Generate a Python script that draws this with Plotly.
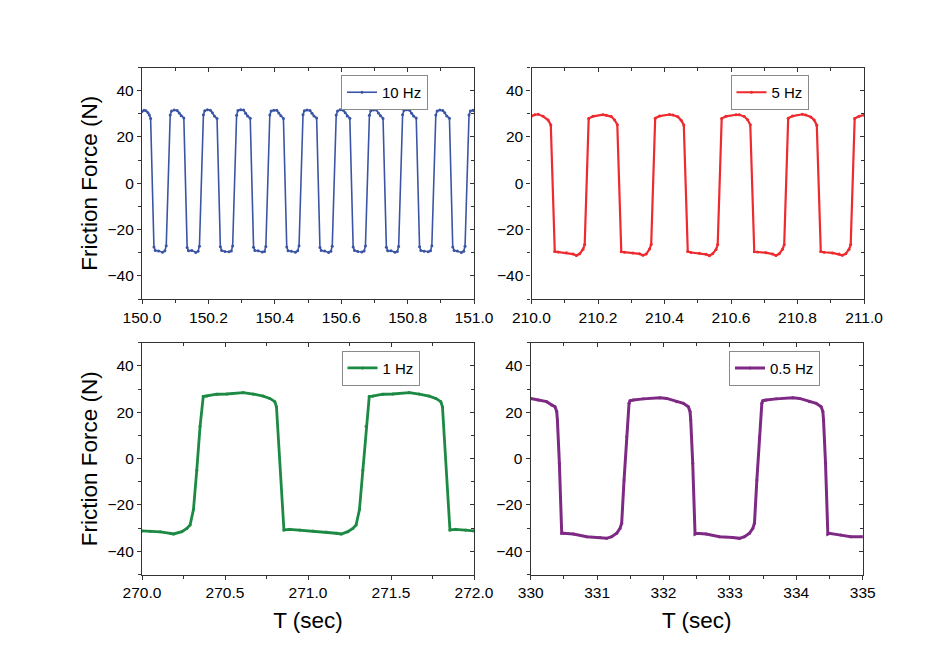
import plotly.graph_objects as go

# ---------------- data ----------------
t_10hz = [150.000, 150.006, 150.012, 150.018, 150.022,
          150.026, 150.036, 150.040, 150.050, 150.062, 150.069, 150.073, 150.085, 150.089, 150.097, 150.106, 150.112, 150.118,
          150.126, 150.136, 150.140, 150.150, 150.162, 150.169, 150.173, 150.185, 150.189, 150.197, 150.206, 150.212, 150.218,
          150.226, 150.236, 150.240, 150.250, 150.262, 150.269, 150.273, 150.285, 150.289, 150.297, 150.306, 150.312, 150.318,
          150.326, 150.336, 150.340, 150.350, 150.362, 150.369, 150.373, 150.385, 150.389, 150.397, 150.406, 150.412, 150.418,
          150.426, 150.436, 150.440, 150.450, 150.462, 150.469, 150.473, 150.485, 150.489, 150.497, 150.506, 150.512, 150.518,
          150.526, 150.536, 150.540, 150.550, 150.562, 150.569, 150.573, 150.585, 150.589, 150.597, 150.606, 150.612, 150.618,
          150.626, 150.636, 150.640, 150.650, 150.662, 150.669, 150.673, 150.685, 150.689, 150.697, 150.706, 150.712, 150.718,
          150.726, 150.736, 150.740, 150.750, 150.762, 150.769, 150.773, 150.785, 150.789, 150.797, 150.806, 150.812, 150.818,
          150.826, 150.836, 150.840, 150.850, 150.862, 150.869, 150.873, 150.885, 150.889, 150.897, 150.906, 150.912, 150.918,
          150.926, 150.936, 150.940, 150.950, 150.962, 150.969, 150.973, 150.985, 150.989, 150.997, 151.000]
f_10hz = [31.0, 31.5, 31.3, 30.5, 29.5,
          28.0, -27.5, -29.0, -29.3, -29.8, -29.2, -27.0, 29.5, 31.2, 31.6, 31.4, 30.3, 29.2,
          28.2, -27.8, -29.2, -29.0, -29.9, -29.4, -27.2, 29.6, 31.3, 31.7, 31.5, 30.4, 29.0,
          28.0, -27.4, -29.1, -29.5, -29.6, -29.3, -27.1, 29.4, 31.4, 31.8, 31.6, 30.2, 29.1,
          28.1, -27.6, -29.0, -29.2, -29.7, -29.5, -27.3, 29.5, 31.2, 31.5, 31.5, 30.3, 29.2,
          28.0, -27.5, -29.2, -29.4, -29.8, -29.2, -27.0, 29.6, 31.3, 31.6, 31.4, 30.2, 29.0,
          28.2, -27.7, -29.1, -29.3, -29.9, -29.4, -27.2, 29.5, 31.2, 31.7, 31.5, 30.4, 29.1,
          28.1, -27.5, -29.0, -29.5, -29.7, -29.3, -27.1, 29.4, 31.3, 31.6, 31.6, 30.3, 29.2,
          28.0, -27.6, -29.2, -29.2, -29.8, -29.5, -27.3, 29.6, 31.4, 31.8, 31.5, 30.2, 29.0,
          28.2, -27.4, -29.1, -29.4, -29.6, -29.2, -27.0, 29.5, 31.2, 31.6, 31.4, 30.4, 29.1,
          28.1, -27.5, -29.0, -29.3, -29.9, -29.4, -27.2, 29.5, 31.2, 31.5, 31.4]

t_5hz = [210.000, 210.010, 210.020, 210.035, 210.050, 210.058,
         210.070, 210.080, 210.105, 210.125, 210.135, 210.145, 210.155, 210.160, 210.172, 210.185, 210.215, 210.225, 210.240, 210.250, 210.258,
         210.270, 210.280, 210.305, 210.325, 210.335, 210.345, 210.355, 210.360, 210.372, 210.385, 210.415, 210.425, 210.440, 210.450, 210.458,
         210.470, 210.480, 210.505, 210.525, 210.535, 210.545, 210.555, 210.560, 210.572, 210.585, 210.615, 210.625, 210.640, 210.650, 210.658,
         210.670, 210.680, 210.705, 210.725, 210.735, 210.745, 210.755, 210.760, 210.772, 210.785, 210.815, 210.825, 210.840, 210.850, 210.858,
         210.870, 210.880, 210.905, 210.925, 210.935, 210.945, 210.955, 210.960, 210.972, 210.985, 211.000]
f_5hz = [29.0, 29.6, 29.8, 28.9, 27.3, 25.2,
         -29.5, -29.7, -30.0, -30.6, -31.2, -30.5, -28.5, -26.5, 28.0, 28.9, 29.6, 29.4, 28.8, 27.3, 25.3,
         -29.6, -29.8, -30.1, -30.5, -31.1, -30.6, -28.4, -26.4, 28.1, 29.0, 29.7, 29.5, 28.7, 27.2, 25.2,
         -29.5, -29.9, -30.2, -30.7, -31.3, -30.4, -28.6, -26.5, 28.0, 28.9, 29.6, 29.6, 28.8, 27.4, 25.3,
         -29.6, -29.7, -30.0, -30.6, -31.2, -30.5, -28.5, -26.6, 28.1, 29.0, 29.8, 29.5, 28.6, 27.3, 25.1,
         -29.5, -29.8, -30.1, -30.6, -31.1, -30.5, -28.5, -26.5, 28.0, 28.9, 29.5]

t_1hz = [270.000, 270.050, 270.110, 270.170, 270.190, 270.240, 270.270, 270.290, 270.310, 270.330, 270.350, 270.369,
         270.390, 270.450, 270.510, 270.610, 270.670, 270.730, 270.770, 270.800, 270.810, 270.855,
         270.890, 270.950, 271.030, 271.110, 271.170, 271.200, 271.240, 271.270, 271.290, 271.310, 271.330, 271.350, 271.369,
         271.390, 271.450, 271.510, 271.610, 271.670, 271.730, 271.770, 271.800, 271.810, 271.855,
         271.890, 271.950, 272.000]
f_1hz = [-31.2, -31.3, -31.6, -32.2, -32.5, -31.5, -30.1, -28.6, -22.0, -5.0, 14.0, 26.8,
         27.0, 27.8, 27.9, 28.5, 27.9, 27.0, 26.0, 24.6, 22.4, -30.8,
         -30.5, -30.8, -31.2, -31.7, -32.2, -32.5, -31.5, -30.1, -28.6, -22.0, -5.0, 14.0, 26.8,
         27.0, 27.8, 27.9, 28.5, 27.9, 27.0, 26.0, 24.6, 22.4, -30.8,
         -30.5, -30.8, -31.2]

t_05hz = [330.000, 330.115, 330.241, 330.316, 330.366, 330.392, 330.402, 330.432, 330.467,
          330.492, 330.643, 330.843, 331.044, 331.145, 331.220, 331.295, 331.345, 331.370, 331.406, 331.446, 331.481, 331.496,
          331.546, 331.697, 331.948, 332.048, 332.199, 332.299, 332.374, 332.400, 332.410, 332.440, 332.475,
          332.492, 332.643, 332.843, 333.044, 333.145, 333.220, 333.295, 333.345, 333.370, 333.406, 333.446, 333.481, 333.496,
          333.546, 333.697, 333.948, 334.048, 334.199, 334.299, 334.374, 334.400, 334.410, 334.440, 334.475,
          334.492, 334.670, 334.820, 335.000]
f_05hz = [26.0, 25.3, 24.6, 23.2, 22.4, 20.3, 16.7, -2.0, -32.2,
          -32.2, -32.5, -33.7, -34.0, -34.4, -33.7, -32.2, -30.1, -27.9, -9.2, 9.5, 23.9, 25.0,
          25.3, 25.8, 26.3, 26.0, 24.6, 23.9, 22.4, 20.3, 16.7, -2.0, -32.5,
          -32.2, -32.5, -33.7, -34.0, -34.4, -33.7, -32.2, -30.1, -27.9, -9.2, 9.5, 23.9, 25.0,
          25.3, 25.8, 26.3, 26.0, 24.6, 23.9, 22.4, 20.3, 16.7, -2.0, -32.5,
          -32.2, -33.0, -33.7, -33.7]

series_names = ["10 Hz", "5 Hz", "1 Hz", "0.5 Hz"]
series_colors = ["#3B55A6", "#EE2A2E", "#1C8A43", "#7E2A85"]
line_widths = [1.6, 2.2, 2.8, 3.0]
x_ranges = [[150.0, 151.0], [210.0, 211.0], [270.0, 272.0], [330.0, 335.0]]
x_dticks = [0.2, 0.2, 0.5, 1.0]
x_formats = [".1f", ".1f", ".1f", "d"]
y_range = [-50, 50]
y_tickvals = [-40, -20, 0, 20, 40]
y_minor_vals = [-50, -30, -10, 10, 30, 50]

FONT = "Arial, Liberation Sans, sans-serif"
AX = "#333333"

# pixel boxes of each panel in the page -> paper fractions (page body has an 8px offset)
W, H, OFF = 950.0, 665.0, 8.0
boxes = [(142, 474, 67.5, 299), (531.5, 864, 67.5, 299),
         (142, 474, 342.8, 574.5), (530.7, 862.7, 342.8, 574.5)]
legend_pos = [(341, 75), (730.5, 75), (341.5, 350.7), (729, 350.7)]

fig = go.Figure()
data = [(t_10hz, f_10hz), (t_5hz, f_5hz), (t_1hz, f_1hz), (t_05hz, f_05hz)]
for i, (tt, ff) in enumerate(data):
    sfx = "" if i == 0 else str(i + 1)
    fig.add_trace(go.Scatter(
        x=tt, y=ff, mode="lines+markers", name=series_names[i],
        line=dict(color=series_colors[i], width=line_widths[i]),
        marker=dict(color=series_colors[i], size=3),
        xaxis="x" + sfx, yaxis="y" + sfx,
        legend="legend" + sfx, showlegend=True,
    ))
    # empty traces so the mirrored frame axes (top / right) get drawn
    fig.add_trace(go.Scatter(x=[], y=[], xaxis="x" + str(i + 5), yaxis="y" + sfx,
                             showlegend=False, hoverinfo="skip"))
    fig.add_trace(go.Scatter(x=[], y=[], xaxis="x" + sfx, yaxis="y" + str(i + 5),
                             showlegend=False, hoverinfo="skip"))

layout = dict(
    width=950, height=665,
    margin=dict(l=0, r=0, t=0, b=0),
    paper_bgcolor="white", plot_bgcolor="white",
    font=dict(family=FONT, size=14, color="black"),
    showlegend=True,
)

TICKFONT = dict(size=15.5, family=FONT, color="black")
for i in range(4):
    sfx = "" if i == 0 else str(i + 1)
    osfx = str(i + 5)
    x0, x1, y0, y1 = boxes[i]
    xd = [(x0 - OFF) / W, (x1 - OFF) / W]
    yd = [1 - (y1 - OFF) / H, 1 - (y0 - OFF) / H]
    xa = dict(
        domain=xd, range=x_ranges[i], anchor="y" + sfx,
        showgrid=False, zeroline=False, showline=True, linecolor=AX, linewidth=1.3,
        ticks="outside", ticklen=4, tickwidth=1.1, tickcolor=AX,
        dtick=x_dticks[i], tick0=x_ranges[i][0], tickformat=x_formats[i],
        minor=dict(dtick=x_dticks[i] / 2, ticklen=3, tickwidth=1, tickcolor=AX, ticks="outside", showgrid=False),
        tickfont=TICKFONT, automargin=False,
    )
    if i >= 2:
        xa["title"] = dict(text="T (sec)", font=dict(size=22.5, family=FONT, color="black"), standoff=11)
    ya = dict(
        domain=yd, range=y_range, anchor="x" + sfx,
        showgrid=False, zeroline=False, showline=True, linecolor=AX, linewidth=1.3,
        ticks="outside", ticklen=4, tickwidth=1.1, tickcolor=AX,
        tickvals=y_tickvals,
        minor=dict(tickvals=y_minor_vals, ticklen=3, tickwidth=1, tickcolor=AX, ticks="outside", showgrid=False),
        tickfont=TICKFONT, automargin=False,
    )
    if i in (0, 2):
        ya["title"] = dict(text="Friction Force (N)", font=dict(size=22.5, family=FONT, color="black"), standoff=3)
    layout["xaxis" + sfx] = xa
    layout["yaxis" + sfx] = ya
    # mirrored frame with inward ticks
    layout["xaxis" + osfx] = dict(
        overlaying="x" + sfx, side="top", anchor="y" + sfx, range=x_ranges[i],
        showgrid=False, zeroline=False, showline=True, linecolor=AX, linewidth=1.3,
        ticks="inside", ticklen=4, tickwidth=1.1, tickcolor=AX,
        dtick=x_dticks[i], tick0=x_ranges[i][0], showticklabels=False,
        minor=dict(dtick=x_dticks[i] / 2, ticklen=3, tickwidth=1, tickcolor=AX, ticks="inside", showgrid=False),
        fixedrange=True,
    )
    layout["yaxis" + osfx] = dict(
        overlaying="y" + sfx, side="right", anchor="x" + sfx, range=y_range,
        showgrid=False, zeroline=False, showline=True, linecolor=AX, linewidth=1.3,
        ticks="inside", ticklen=4, tickwidth=1.1, tickcolor=AX,
        tickvals=y_tickvals, showticklabels=False,
        minor=dict(tickvals=y_minor_vals, ticklen=3, tickwidth=1, tickcolor=AX, ticks="inside", showgrid=False),
        fixedrange=True,
    )
    lx, ly = legend_pos[i]
    layout["legend" + sfx] = dict(
        x=(lx - OFF) / W, y=1 - (ly - OFF) / H, xanchor="left", yanchor="top",
        bgcolor="white", bordercolor="#8a8a8a", borderwidth=1,
        font=dict(size=15, family=FONT, color="black"),
        tracegroupgap=0, itemwidth=30, visible=True,
    )

fig.update_layout(**layout)
fig.write_html("out.html")
